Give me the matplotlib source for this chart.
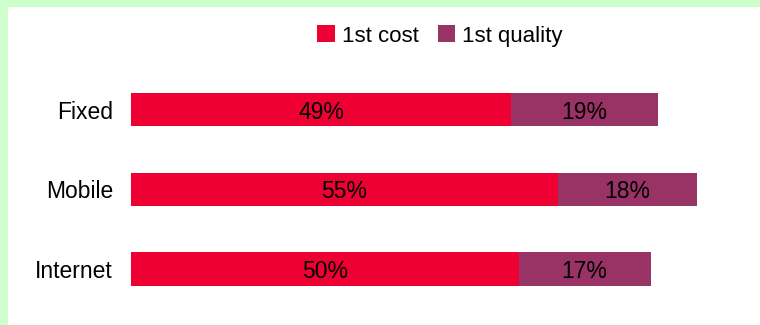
import matplotlib.pyplot as plt
from matplotlib.patches import Rectangle, Patch

plt.rcParams['font.family'] = ['Liberation Sans', 'DejaVu Sans']

categories = ["Fixed", "Mobile", "Internet"]
first_cost = [49, 55, 50]
first_quality = [19, 18, 17]
series_names = ["1st cost", "1st quality"]
colours = ["#EE0033", "#993366"]

fig = plt.figure(figsize=(7.6, 3.25), dpi=100)
fig.patch.set_facecolor("#CCFFCC")
# white panel inside the green frame (top and left edges)
fig.patches.append(Rectangle((8 / 760, 0), 1, 318 / 325, transform=fig.transFigure,
                             facecolor="white", edgecolor="none", zorder=-1))

ax = fig.add_axes([131 / 760, 0, 629 / 760, 1])
ax.set_facecolor("none")
ypos = list(range(len(categories)))
h = 33 / 79.5
ax.barh(ypos, first_cost, height=h, color=colours[0], edgecolor="none")
ax.barh(ypos, first_quality, left=first_cost, height=h, color=colours[1], edgecolor="none")

for y, c, q in zip(ypos, first_cost, first_quality):
    ax.text(c / 2, y, f"{c}%", ha="center", va="center_baseline", fontsize=16.5, color="black")
    ax.text(c + q / 2, y, f"{q}%", ha="center", va="center_baseline", fontsize=16.5, color="black")

ax.set_xlim(0, 629 / 7.755)
top = -110 / 79.5
ax.set_ylim(top + 325 / 79.5, top)
ax.set_yticks(ypos)
ax.set_yticklabels(categories, fontsize=16.5, va="center_baseline")
ax.tick_params(axis="y", length=0, pad=13)
ax.set_xticks([])
for s in ax.spines.values():
    s.set_visible(False)

handles = [Patch(facecolor=colours[0]), Patch(facecolor=colours[1])]
fig.legend(handles, series_names, loc="center", bbox_to_anchor=(440 / 760, 1 - 36 / 325),
           ncol=2, frameon=False, fontsize=16, handlelength=0.8, handleheight=0.8,
           handletextpad=0.3, columnspacing=0.85, borderpad=0)

fig.savefig("out.png", dpi=100, facecolor=fig.get_facecolor())
